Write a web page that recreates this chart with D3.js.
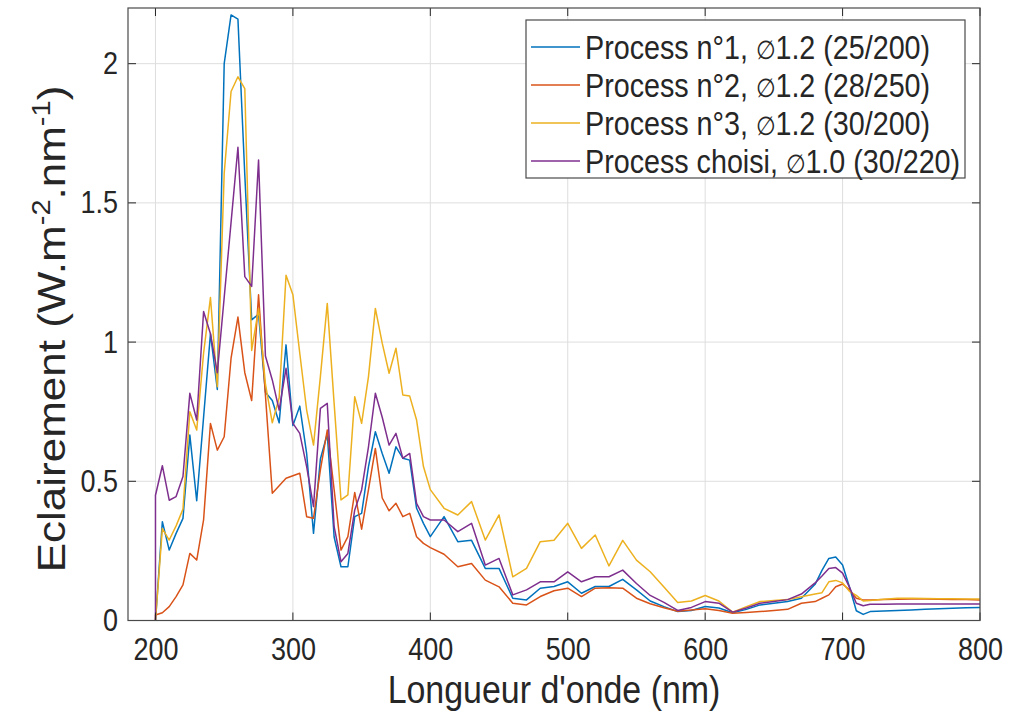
<!DOCTYPE html>
<html>
<head>
<meta charset="utf-8">
<title>Eclairement spectral</title>
<script src="https://d3js.org/d3.v7.min.js" charset="utf-8"></script>
<style>
	body { margin: 0; background: #fff; }
	text { font-family: "Liberation Sans", Arial, Helvetica, sans-serif; fill: #262626; }
	.grid line { stroke: #dedede; stroke-width: 1; }
	.series { fill: none; stroke-width: 1.5; stroke-linejoin: round; }
</style>
</head>
<body>
<svg></svg>
<script>

// wavelength (nm) - first 200 is repeated so the curves start from 0
var wavelengths = [200, 200, 205, 210, 215, 220, 225, 230, 235, 240, 245,
	250, 255, 260, 265, 270, 275, 280, 285, 290, 295, 300,
	305, 310, 315, 320, 325, 330, 335, 340, 345, 350,
	355, 360, 365, 370, 375, 380, 385, 390, 395, 400,
	410, 420, 430, 440, 450, 460, 470, 480, 490, 500,
	510, 520, 530, 540, 550, 560, 570, 580, 590, 600,
	610, 620, 630, 640, 650, 660, 670, 680,
	685, 690, 695, 700, 705, 710, 715, 720,
	730, 740, 750, 760, 770, 780, 790, 800];

var process1 = [0, 0, 0.355, 0.253, 0.313, 0.367, 0.666, 0.43, 0.73, 1.03, 0.83,
	2.0, 2.175, 2.16, 1.6, 1.08, 1.1, 0.82, 0.79, 0.71, 0.99, 0.70,
	0.77, 0.6, 0.313, 0.58, 0.67, 0.30, 0.193, 0.193, 0.373, 0.385,
	0.553, 0.678, 0.60, 0.529, 0.624, 0.583, 0.576, 0.403, 0.349, 0.301,
	0.373, 0.283, 0.288, 0.187, 0.187, 0.08, 0.074, 0.116, 0.122, 0.139,
	0.098, 0.122, 0.122, 0.148, 0.11, 0.07, 0.05, 0.032, 0.036, 0.05,
	0.045, 0.028, 0.04, 0.056, 0.062, 0.068, 0.08, 0.13,
	0.18, 0.223, 0.228, 0.199, 0.12, 0.035, 0.022, 0.032,
	0.034, 0.036, 0.038, 0.04, 0.042, 0.044, 0.046, 0.047];

var process2 = [0, 0.02, 0.028, 0.05, 0.086, 0.128, 0.241, 0.217, 0.361, 0.708, 0.612,
	0.66, 0.942, 1.09, 0.89, 0.79, 1.17, 0.81, 0.457, 0.484, 0.511, 0.52,
	0.529, 0.373, 0.367, 0.541, 0.684, 0.47, 0.253, 0.301, 0.46, 0.328,
	0.47, 0.618, 0.44, 0.394, 0.421, 0.373, 0.385, 0.301, 0.277, 0.262,
	0.238, 0.193, 0.205, 0.145, 0.121, 0.062, 0.056, 0.086, 0.107, 0.116,
	0.086, 0.116, 0.118, 0.116, 0.08, 0.06, 0.046, 0.033, 0.038, 0.042,
	0.036, 0.026, 0.029, 0.032, 0.036, 0.04, 0.062, 0.068,
	0.08, 0.092, 0.121, 0.131, 0.11, 0.08, 0.074, 0.074,
	0.075, 0.076, 0.077, 0.077, 0.076, 0.075, 0.075, 0.074];

var process3 = [0, 0, 0.33, 0.289, 0.34, 0.40, 0.75, 0.684, 0.96, 1.16, 0.84,
	1.606, 1.9, 1.953, 1.91, 0.97, 1.12, 0.85, 0.71, 0.80, 1.24, 1.17,
	0.96, 0.756, 0.63, 0.876, 1.139, 0.78, 0.433, 0.451, 0.804, 0.708,
	0.876, 1.121, 0.996, 0.888, 0.978, 0.81, 0.806, 0.72, 0.553, 0.47,
	0.403, 0.379, 0.427, 0.289, 0.379, 0.157, 0.187, 0.283, 0.288, 0.349,
	0.259, 0.307, 0.196, 0.288, 0.217, 0.175, 0.12, 0.065, 0.07, 0.09,
	0.07, 0.03, 0.05, 0.068, 0.072, 0.075, 0.085, 0.095,
	0.1, 0.139, 0.144, 0.135, 0.105, 0.09, 0.07, 0.072,
	0.076, 0.08, 0.08, 0.079, 0.078, 0.078, 0.077, 0.077];

var processChoisi = [0, 0.45, 0.556, 0.432, 0.445, 0.517, 0.816, 0.72, 1.11, 1.03, 0.89,
	1.16, 1.43, 1.70, 1.235, 1.2, 1.654, 0.95, 0.864, 0.756, 0.906, 0.708,
	0.672, 0.553, 0.409, 0.762, 0.78, 0.337, 0.211, 0.241, 0.397, 0.469,
	0.624, 0.816, 0.73, 0.63, 0.672, 0.583, 0.6, 0.421, 0.373, 0.361,
	0.361, 0.319, 0.349, 0.199, 0.223, 0.092, 0.11, 0.139, 0.139, 0.175,
	0.139, 0.157, 0.157, 0.181, 0.133, 0.09, 0.065, 0.036, 0.047, 0.068,
	0.062, 0.03, 0.045, 0.062, 0.068, 0.075, 0.095, 0.135,
	0.16, 0.187, 0.19, 0.17, 0.12, 0.062, 0.053, 0.058,
	0.058, 0.059, 0.059, 0.059, 0.059, 0.059, 0.059, 0.059];

// legend labels split around the diameter sign
var seriesPrefix = ["Process n°1, ", "Process n°2, ", "Process n°3, ", "Process choisi, "];
var seriesSuffix = ["1.2 (25/200)", "1.2 (28/250)", "1.2 (30/200)", "1.0 (30/220)"];
var seriesValues = [process1, process2, process3, processChoisi];
var seriesColors = ["#0072BD", "#D95319", "#EDB120", "#7E2F8E"];

var xTicks = [200, 300, 400, 500, 600, 700, 800];
var yTicks = [0, 0.5, 1, 1.5, 2];

var config = {
	"width": 1025,
	"height": 716,
	"left": 128,
	"right": 980,
	"top": 8,
	"bottom": 620.5,
	"tick": 8,
	"squeeze": 0.87   // glyphs in the picture are a bit narrow
};

var svg = d3.select("svg")
	.attr("width", config.width)
	.attr("height", config.height);

var x = d3.scaleLinear().domain([180, 800]).range([config.left, config.right]);
var y = d3.scaleLinear().domain([0, 2.2]).range([config.bottom, config.top]);

// grid
var grid = svg.append("g").attr("class", "grid");
grid.selectAll("line.v")
	.data(xTicks)
	.enter().append("line")
	.attr("x1", function(d) { return x(d); })
	.attr("x2", function(d) { return x(d); })
	.attr("y1", config.top)
	.attr("y2", config.bottom);
grid.selectAll("line.h")
	.data(yTicks)
	.enter().append("line")
	.attr("x1", config.left)
	.attr("x2", config.right)
	.attr("y1", function(d) { return y(d); })
	.attr("y2", function(d) { return y(d); });

// curves
svg.append("clipPath")
	.attr("id", "plot-clip")
	.append("rect")
	.attr("x", config.left)
	.attr("y", config.top)
	.attr("width", config.right - config.left)
	.attr("height", config.bottom - config.top);

var line = d3.line()
	.x(function(d) { return x(d[0]); })
	.y(function(d) { return y(d[1]); });

svg.append("g")
	.attr("clip-path", "url(#plot-clip)")
	.selectAll("path")
	.data(seriesValues)
	.enter().append("path")
	.attr("class", "series")
	.attr("stroke", function(d, i) { return seriesColors[i]; })
	.attr("d", function(vals) {
		return line(vals.map(function(v, j) { return [wavelengths[j], v]; }));
	});

// axes (labels only, ticks drawn inside the box below)
var xAxis = svg.append("g")
	.attr("transform", `translate(0,${config.bottom})`)
	.call(d3.axisBottom(x).tickValues(xTicks).tickSize(0).tickPadding(18).tickFormat(d3.format("d")));
var yAxis = svg.append("g")
	.attr("transform", `translate(${config.left},0)`)
	.call(d3.axisLeft(y).tickValues(yTicks).tickSize(0).tickPadding(11.5).tickFormat(d3.format("~g")));

[xAxis, yAxis].forEach(function(ax) {
	ax.select(".domain").remove();
	ax.selectAll("text")
		.attr("font-size", 31)
		.attr("font-family", null)
		.attr("fill", "#262626")
		.attr("transform", `scale(${config.squeeze},1)`);
});

var ticks = svg.append("g").attr("stroke", "#262626").attr("stroke-width", 1);
xTicks.forEach(function(t) {
	ticks.append("line").attr("x1", x(t)).attr("x2", x(t)).attr("y1", config.bottom).attr("y2", config.bottom - config.tick);
	ticks.append("line").attr("x1", x(t)).attr("x2", x(t)).attr("y1", config.top).attr("y2", config.top + config.tick);
});
yTicks.forEach(function(t) {
	ticks.append("line").attr("x1", config.left).attr("x2", config.left + config.tick).attr("y1", y(t)).attr("y2", y(t));
	ticks.append("line").attr("x1", config.right).attr("x2", config.right - config.tick).attr("y1", y(t)).attr("y2", y(t));
});

// box
svg.append("rect")
	.attr("x", config.left)
	.attr("y", config.top)
	.attr("width", config.right - config.left)
	.attr("height", config.bottom - config.top)
	.attr("fill", "none")
	.attr("stroke", "#4a4a4a")
	.attr("stroke-width", 1.2);

// axis titles
svg.append("text")
	.attr("transform", `translate(${(config.left + config.right) / 2},703) scale(${config.squeeze},1)`)
	.attr("text-anchor", "middle")
	.attr("font-size", 39)
	.text("Longueur d'onde (nm)");

var yTitle = svg.append("text")
	.attr("transform", `translate(65,329) scale(${config.squeeze},1) rotate(-90)`)
	.attr("text-anchor", "middle")
	.attr("font-size", 44);
yTitle.append("tspan").text("Eclairement (W.m");
yTitle.append("tspan").attr("font-size", 29).attr("dy", -17).text("-2");
yTitle.append("tspan").attr("dy", 17).text(".nm");
yTitle.append("tspan").attr("font-size", 29).attr("dy", -17).text("-1");
yTitle.append("tspan").attr("dy", 17).text(")");

// legend
var legend = svg.append("g");
legend.append("rect")
	.attr("x", 526)
	.attr("y", 20)
	.attr("width", 439)
	.attr("height", 158)
	.attr("fill", "#fff")
	.attr("stroke", "#4a4a4a")
	.attr("stroke-width", 1.2);

var item = legend.selectAll("g.item")
	.data(seriesPrefix)
	.enter().append("g")
	.attr("class", "item")
	.attr("transform", function(d, i) { return `translate(0,${47 + i * 38})`; });

item.append("line")
	.attr("x1", 531)
	.attr("x2", 580)
	.attr("stroke", function(d, i) { return seriesColors[i]; })
	.attr("stroke-width", 1.5);

var label = item.append("text")
	.attr("transform", `translate(585,0) scale(${config.squeeze},1)`)
	.attr("dy", "0.35em")
	.attr("font-size", 33);
label.append("tspan").text(function(d) { return d; });
label.append("tspan").attr("font-size", 26).text("∅");
label.append("tspan").text(function(d, i) { return seriesSuffix[i]; });

</script>
</body>
</html>
